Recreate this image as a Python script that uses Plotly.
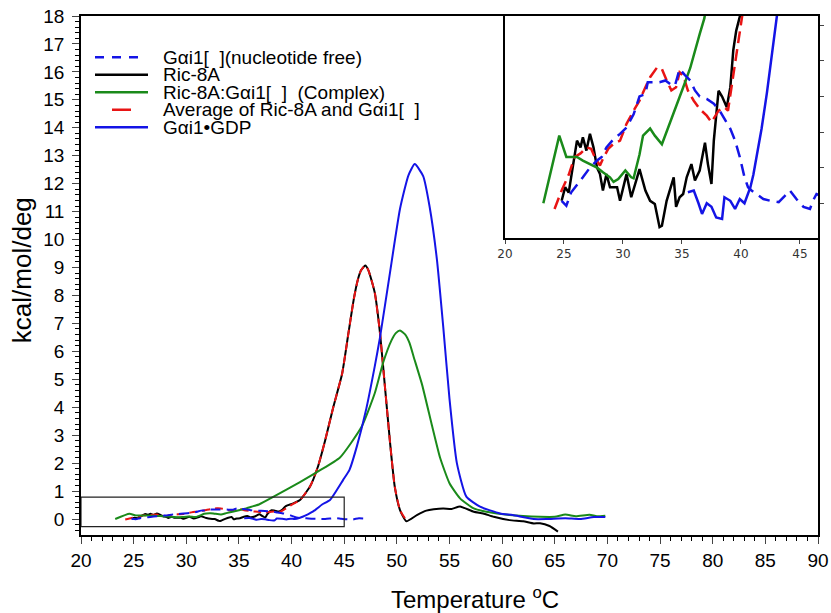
import plotly.graph_objects as go

# ---------------- data ----------------
gfree_T = [24.8, 25.2, 25.6, 26.1, 26.6, 27.2, 27.8, 28.2, 28.6, 29.2, 29.75, 30.3, 30.9, 31.4, 31.9,
           32.1, 32.6, 33.1, 33.6, 34.0, 34.4, 34.8, 35.25, 35.7, 36.1, 36.5, 37.1, 37.7, 38.2, 38.6,
           39.1, 39.5, 39.9, 40.3, 40.6, 40.9, 41.3, 41.9, 42.5, 43.2, 43.7, 44.15, 44.7, 45.3, 45.85,
           46.1, 46.4, 46.8]
gfree_v = [0.007, -0.007, 0.03, 0.05, 0.073, 0.10, 0.12, 0.13, 0.157, 0.18, 0.195, 0.213, 0.25, 0.30, 0.307,
           0.34, 0.34, 0.34, 0.345, 0.335, 0.33, 0.377, 0.36, 0.345, 0.317, 0.30, 0.293, 0.28, 0.26, 0.237,
           0.209, 0.176, 0.13, 0.073, 0.045, 0.036, 0.026, 0.012, 0.007, 0.003, 0.02, 0.036, 0.012, -0.01, -0.016,
           0.007, 0.026, 0.02]

ric_T = [24.8, 25.1, 25.4, 25.8, 26.1, 26.4, 26.6, 26.9, 27.2, 27.5, 27.8, 28.05, 28.3, 28.6, 28.9, 29.5,
         29.75, 30.3, 30.7, 31.2, 31.4, 31.9, 32.3, 32.7, 33.1, 33.3, 33.7, 34.3, 34.5, 34.8, 35.1, 35.4,
         35.8, 36.1, 36.5, 36.95, 37.2, 37.5, 37.7, 38.1, 38.4, 38.8, 39.1, 39.35, 39.6, 40.1, 40.8, 41.75,
         42.5, 43.2, 43.96, 44.8, 45.4, 45.9, 46.3, 46.6, 47.0, 47.3, 47.9, 48.4, 48.9, 49.35, 49.8, 50.3,
         50.9, 51.9, 52.8, 53.5, 54.4, 55.2, 56.0, 57.3, 58.2, 59.2, 60.7, 62.0, 63.0, 63.6, 64.5, 65.3]
ric_v = [0.007, 0.045, 0.03, 0.12, 0.176, 0.157, 0.185, 0.148, 0.195, 0.157, 0.10, 0.082, 0.036, 0.082, 0.045, 0.045,
         0.007, 0.082, 0.017, 0.073, 0.096, 0.036, 0.007, -0.002, -0.067, -0.063, 0.007, 0.073, -0.01, 0.017, 0.026, 0.073,
         0.11, 0.064, 0.092, 0.17, 0.11, 0.054, 0.176, 0.316, 0.30, 0.27, 0.326, 0.43, 0.485, 0.55, 0.68, 1.16,
         1.87, 2.83, 4.0, 5.2, 6.65, 7.85, 8.57, 8.9, 9.07, 8.9, 8.1, 6.65, 4.6, 2.75, 1.16, 0.32,
         -0.08, 0.14, 0.3, 0.35, 0.38, 0.36, 0.45, 0.26, 0.2, 0.08, -0.04, -0.08, -0.16, -0.15, -0.25, -0.45]

cplx_T = [23.25, 24.6, 25.2, 26.1, 26.6, 27.2, 27.8, 28.3, 28.9, 29.2, 29.6, 30.2, 30.7, 30.9, 31.4, 31.7,
          32.3, 32.7, 33.3, 33.8, 34.5, 35.1, 35.7, 36.1, 36.5, 36.9, 38.3, 40.8, 42.6, 44.6, 46.65, 47.9,
          48.7, 49.5, 49.9, 50.3, 50.8, 51.2, 51.6, 52.4, 53.3, 54.1, 55.0, 56.0, 57.3, 58.5, 60.7, 63.6,
          65.0, 66.0, 67.0, 68.3, 69.0, 69.8]
cplx_v = [0.0, 0.19, 0.13, 0.13, 0.12, 0.11, 0.10, 0.087, 0.073, 0.06, 0.068, 0.092, 0.073, 0.07, 0.137, 0.19,
          0.21, 0.19, 0.166, 0.21, 0.27, 0.325, 0.38, 0.43, 0.475, 0.52, 0.8, 1.32, 1.72, 2.2, 3.3, 4.5,
          5.6, 6.4, 6.65, 6.75, 6.6, 6.3, 5.8, 4.8, 3.4, 2.2, 1.28, 0.74, 0.38, 0.26, 0.14, 0.08,
          0.08, 0.16, 0.1, 0.15, 0.1, 0.12]

avg_T = [24.2, 24.8, 25.4, 25.9, 26.4, 26.9, 27.3, 27.6, 28.05, 28.3, 28.75, 29.2, 29.75, 30.3, 30.9, 31.4,
         31.9, 32.3, 32.9, 33.3, 33.7, 34.1, 34.5, 34.8, 35.1, 35.5, 36.0, 36.5, 37.1, 37.5, 38.1, 38.6,
         38.9, 39.35, 39.8, 40.2, 40.8, 41.75, 42.5, 43.2, 43.96, 44.8, 45.4, 45.9, 46.3, 46.6, 47.0, 47.3,
         47.9, 48.4, 48.9, 49.35, 49.8, 50.3, 50.9]
avg_v = [-0.016, 0.036, 0.08, 0.13, 0.14, 0.157, 0.153, 0.13, 0.106, 0.125, 0.153, 0.167, 0.176, 0.223, 0.26, 0.288,
         0.326, 0.354, 0.382, 0.377, 0.345, 0.317, 0.326, 0.368, 0.359, 0.317, 0.288, 0.265, 0.246, 0.228, 0.26, 0.27,
         0.26, 0.354, 0.457, 0.55, 0.68, 1.16, 1.87, 2.83, 4.0, 5.2, 6.65, 7.85, 8.57, 8.9, 9.07, 8.9,
         8.1, 6.65, 4.6, 2.75, 1.16, 0.32, -0.05]

gdp_T = [35.5, 36.0, 36.4, 36.7, 37.1, 37.5, 37.9, 38.4, 38.6, 39.1, 39.5, 39.9, 40.3, 40.8, 41.05, 41.5,
         41.75, 42.2, 42.5, 42.9, 43.65, 44.9, 45.5, 46.2, 47.1, 47.9, 48.4, 49.3, 50.3, 51.1, 51.7, 52.5,
         53.1, 53.8, 54.4, 55.0, 55.7, 56.6, 57.9, 59.8, 61.0, 63.0, 64.2, 66.0, 67.4, 68.7, 69.8]
gdp_v = [0.031, 0.036, 0.0, -0.03, 0.0, -0.01, -0.04, -0.044, 0.017, 0.007, -0.016, 0.012, 0.0, 0.045, 0.08, 0.157,
         0.21, 0.31, 0.40, 0.52, 0.68, 1.4, 1.76, 2.6, 3.95, 5.46, 6.5, 8.7, 11.1, 12.3, 12.7, 12.27,
         11.2, 9.3, 6.9, 4.3, 2.0, 0.8, 0.44, 0.2, 0.14, 0.0, 0.0, 0.03, 0.0, 0.07, 0.07]

legend_labels = ["G\u03b1i1[\u00a0\u00a0](nucleotide free)", "Ric-8A",
                 "Ric-8A:G\u03b1i1[\u00a0\u00a0]\u00a0\u00a0(Complex)",
                 "Average of Ric-8A and G\u03b1i1[\u00a0\u00a0]", "G\u03b1i1\u2022GDP"]

BLUE = "#1414e6"
GREEN = "#1a8a1a"
RED = "#e81414"
BLACK = "#000000"

series = [
    (ric_T, ric_v, BLACK, "solid", "solid"),
    (avg_T, avg_v, RED, "8px,5px", "12px,6px"),
    (cplx_T, cplx_v, GREEN, "solid", "solid"),
    (gfree_T, gfree_v, BLUE, "10px,6px", "12px,7px"),
    (gdp_T, gdp_v, BLUE, "solid", "solid"),
]

fig = go.Figure()
for T, v, c, d1, d2 in series:
    fig.add_trace(go.Scatter(x=T, y=v, mode="lines",
                             line=dict(color=c, width=2, dash=d1, shape="spline", smoothing=0.5),
                             xaxis="x", yaxis="y", showlegend=False, hoverinfo="skip"))
for T, v, c, d1, d2 in series:
    fig.add_trace(go.Scatter(x=T, y=v, mode="lines", line=dict(color=c, width=2.5, dash=d2),
                             xaxis="x2", yaxis="y2", showlegend=False, hoverinfo="skip"))

W, H = 831, 613
# plot-area edges in page pixels
L, R, TOP, BOT = 81, 818, 15.7, 535
def xp(px):
    return (px - L) / (R - L)
def yp(py):
    return (BOT - py) / (BOT - TOP)

FONT = "Liberation Sans, Arial, sans-serif"

fig.update_layout(
    width=W, height=H,
    margin=dict(l=L, r=W - R, t=TOP, b=H - BOT, autoexpand=False),
    paper_bgcolor="white", plot_bgcolor="white",
    font=dict(family=FONT, color="black"),
    xaxis=dict(range=[20, 90], domain=[0, 1], dtick=5, tick0=20, ticks="outside", ticklen=7, tickwidth=1.3,
               showline=True, linecolor="black", linewidth=1.5, mirror=True, showgrid=False, zeroline=False,
               automargin=False, ticklabeloverflow="allow", tickfont=dict(size=19, family=FONT),
               minor=dict(dtick=1, ticks="outside", ticklen=4, tickwidth=1, tickcolor="black")),
    yaxis=dict(range=[-0.572, 18], domain=[0, 1], dtick=1, tick0=0, ticks="outside", ticklen=7, tickwidth=1.3,
               showline=True, linecolor="black", linewidth=1.5, mirror=True, showgrid=False, zeroline=False,
               automargin=False, ticklabeloverflow="allow", ticklabelstandoff=4,
               tickfont=dict(size=19, family=FONT),
               minor=dict(dtick=0.2, ticks="outside", ticklen=4, tickwidth=1, tickcolor="black")),
    xaxis2=dict(range=[20, 46.53], domain=[xp(505), 1], anchor="y2", dtick=5, tick0=20, ticks="outside",
                ticklen=4, showline=True, linecolor="black", linewidth=1.5, mirror=True, showgrid=False,
                zeroline=False, automargin=False,
                tickfont=dict(size=12, family="DejaVu Sans", color="#333333")),
    yaxis2=dict(range=[-0.098, 0.526], domain=[yp(238), 1], anchor="x2", side="right", dtick=0.1, tick0=0,
                ticks="outside", ticklen=4, showticklabels=False, showline=True, linecolor="black",
                linewidth=1.5, mirror=True, showgrid=False, zeroline=False, automargin=False),
)

# zoom box in main chart
fig.add_shape(type="rect", xref="x", yref="y", x0=20, x1=45, y0=-0.27, y1=0.78,
              line=dict(color="#222222", width=1.2))

# manual legend
leg_y = [57, 74.5, 92, 109.5, 127]
leg_style = [(BLUE, "dash", 95, 140), (BLACK, "solid", 95, 148), (GREEN, "solid", 95, 148),
             (RED, "solid", 112, 131), (BLUE, "solid", 95, 148)]
for (c, d, x0, x1), yy, lab in zip(leg_style, leg_y, legend_labels):
    fig.add_shape(type="line", xref="paper", yref="paper", x0=xp(x0), x1=xp(x1), y0=yp(yy), y1=yp(yy),
                  line=dict(color=c, width=2.5, dash="9px,8px" if d == "dash" else "solid"))
    fig.add_annotation(xref="paper", yref="paper", x=xp(161), y=yp(yy), text=lab, showarrow=False,
                       xanchor="left", yanchor="middle",
                       font=dict(size=19, family=FONT, color="black"))

# axis titles
fig.add_annotation(xref="paper", yref="paper", x=xp(475), y=yp(598), text="Temperature <sup>o</sup>C",
                   showarrow=False, xanchor="center", yanchor="middle", font=dict(size=24, family=FONT))
fig.add_annotation(xref="paper", yref="paper", x=xp(22), y=yp(270), text="kcal/mol/deg", textangle=-90,
                   showarrow=False, xanchor="center", yanchor="middle", font=dict(size=26, family=FONT))

# remove the default page margin so the figure sits at the window's top-left corner
fig.write_html("out.html", config={"displayModeBar": False},
               post_script="document.body.style.margin='0';document.body.style.overflow='hidden';")
